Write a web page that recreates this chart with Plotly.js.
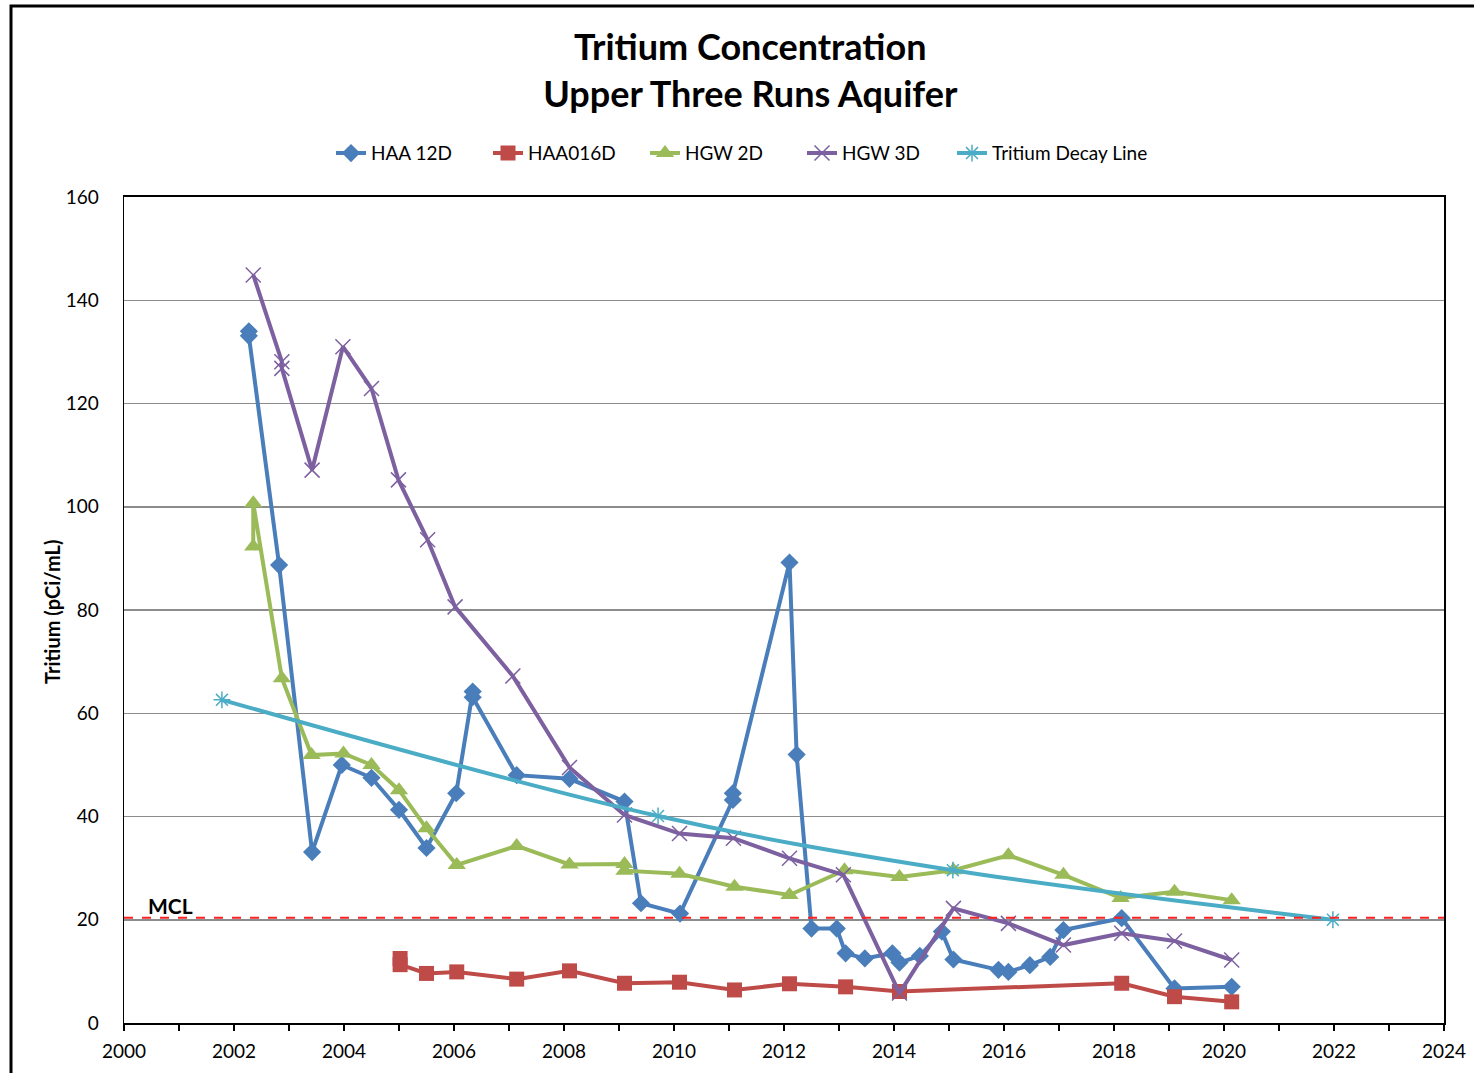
<!DOCTYPE html>
<html>
<head>
<meta charset="utf-8">
<script src="https://cdn.plot.ly/plotly-3.0.1.min.js"></script>
<style>
html,body{margin:0;padding:0;background:#fff;}
#chart{width:1474px;height:1073px;}
</style>
</head>
<body>
<div id="chart"></div>
<script>
// Decimal-year sample dates and tritium values (pCi/mL)
const haa12dX = [2002.27,2002.27,2002.82,2003.42,2003.96,2004.5,2005.0,2005.5,2006.04,2006.34,2006.34,2007.14,2008.1,2009.1,2009.4,2010.11,2011.07,2011.07,2012.1,2012.23,2012.5,2012.96,2013.12,2013.47,2013.97,2014.1,2014.47,2014.87,2015.08,2015.9,2016.08,2016.47,2016.84,2017.08,2018.14,2019.1,2020.14];
const haa12dY = [134.0,133.1,88.7,33.1,50.0,47.5,41.3,33.9,44.5,64.2,63.1,48.0,47.3,42.9,23.2,21.2,43.2,44.5,89.2,52.0,18.3,18.3,13.5,12.5,13.5,11.7,13.0,17.7,12.3,10.3,9.9,11.2,12.8,18.0,20.3,6.7,7.0];

const haa016dX = [2005.02,2005.02,2005.5,2006.05,2007.14,2008.1,2009.1,2010.1,2011.1,2012.1,2013.12,2014.1,2018.14,2019.1,2020.14];
const haa016dY = [12.5,11.3,9.6,9.9,8.5,10.1,7.7,7.9,6.4,7.6,7.0,6.1,7.7,5.1,4.1];

const hgw2dX = [2002.35,2002.35,2002.87,2003.41,2003.99,2004.5,2005.0,2005.5,2006.05,2007.14,2008.1,2009.1,2009.1,2010.1,2011.1,2012.1,2013.1,2014.1,2015.08,2016.08,2017.08,2018.12,2019.1,2020.14];
const hgw2dY = [92.3,100.7,66.8,51.9,52.2,50.0,45.1,37.7,30.6,34.3,30.7,30.8,29.5,28.9,26.4,24.8,29.6,28.3,29.6,32.5,28.7,24.2,25.4,23.8];

const hgw3dX = [2002.35,2002.87,2002.87,2003.42,2003.98,2004.5,2004.99,2005.52,2006.02,2007.07,2008.1,2009.1,2010.1,2011.08,2012.1,2013.08,2014.1,2015.08,2016.08,2017.08,2018.14,2019.1,2020.14];
const hgw3dY = [144.9,128.1,126.8,107.1,131.0,122.9,105.2,93.6,80.6,67.2,49.5,40.3,36.7,35.8,31.9,28.7,5.8,22.2,19.3,15.1,17.4,15.9,12.2];

const decayX = [2001.78,2009.71,2015.07,2021.98];
const decayY = [62.6,40.1,29.6,20.0];

const mclValue = 20;
const xTickVals = [2000,2002,2004,2006,2008,2010,2012,2014,2016,2018,2020,2022,2024];

const FONT = 'Lato, "Open Sans", sans-serif';

const traces = [
  {name:'HAA 12D', x:haa12dX, y:haa12dY, mode:'lines+markers', legend:'legend',
   line:{color:'#4A7EBB', width:4}, marker:{symbol:'diamond', size:14, color:'#4A7EBB'}},
  {name:'HAA016D', x:haa016dX, y:haa016dY, mode:'lines+markers', legend:'legend',
   line:{color:'#BE4B48', width:4}, marker:{symbol:'square', size:15, color:'#BE4B48'}},
  {name:'HGW 2D', x:hgw2dX, y:hgw2dY, mode:'lines+markers', legend:'legend',
   line:{color:'#9BBB59', width:4}, marker:{symbol:'triangle-up', size:16, color:'#9BBB59'}},
  {name:'HGW 3D', x:hgw3dX, y:hgw3dY, mode:'lines+markers', legend:'legend',
   line:{color:'#7D60A0', width:4}, marker:{symbol:'x-thin', size:15, color:'#7D60A0', line:{color:'#7D60A0', width:1.5}}},
  {name:'Tritium Decay Line', x:decayX, y:decayY, mode:'lines+markers', legend:'legend2',
   line:{color:'#4BACC6', width:4, shape:'spline', smoothing:1}, marker:{symbol:'asterisk', size:14, color:'#4BACC6', line:{color:'#4BACC6', width:1.5}}}
];

const legendFont = {family:FONT, size:19, color:'#000'};

const layout = {
  width:1474, height:1073,
  margin:{l:124, r:30, t:197, b:50},
  paper_bgcolor:'#fff', plot_bgcolor:'#fff',
  font:{family:FONT, color:'#000', size:18},
  title:{text:'<b>Tritium Concentration<br>Upper Three Runs Aquifer</b>',
         font:{family:FONT, size:36, color:'#000'}, x:0.509, xanchor:'center', y:1-60/1073, yanchor:'middle', xref:'container', yref:'container'},
  showlegend:true,
  legend:{orientation:'h', x:(331-124)/1320, xanchor:'left', y:1.053, yanchor:'middle', entrywidth:112, entrywidthmode:'pixels',
          font:legendFont, bgcolor:'rgba(0,0,0,0)', tracegroupgap:0},
  legend2:{orientation:'h', x:(952-124)/1320, xanchor:'left', y:1.053, yanchor:'middle',
          font:legendFont, bgcolor:'rgba(0,0,0,0)', tracegroupgap:0},
  xaxis:{range:[2000,2024], tickvals:xTickVals, ticktext:xTickVals.map(String),
         ticks:'outside', ticklen:6, tickwidth:1.5, tickcolor:'#000', ticklabelstandoff:4,
         minor:{dtick:1, tick0:2000, ticks:'outside', ticklen:6, tickwidth:1.5, tickcolor:'#000', showgrid:false},
         showgrid:false, zeroline:false, showline:true, linecolor:'#000', linewidth:2, mirror:true,
         tickfont:{family:FONT, size:19, color:'#000'}},
  yaxis:{range:[0,160], dtick:20, tick0:0, showgrid:true, gridcolor:'#8C8C8C', gridwidth:1.5,
         zeroline:false, showline:true, linecolor:'#000', linewidth:1.5, mirror:true,
         ticks:'', ticklabelstandoff:20,
         tickfont:{family:FONT, size:19, color:'#000'}},
  shapes:[
    {type:'line', xref:'paper', x0:0, x1:1, yref:'y', y0:mclValue+0.4, y1:mclValue+0.4,
     line:{color:'#FF2020', width:2, dash:'dash'}},
    {type:'rect', xref:'paper', yref:'paper', x0:(11-124)/1320, x1:1.2, y0:-0.2, y1:(1023-6)/826,
     line:{color:'#000', width:3}, fillcolor:'rgba(0,0,0,0)', layer:'above'}
  ],
  annotations:[
    {text:'<b>MCL</b>', xref:'paper', x:(146-124)/1320, xanchor:'left', yref:'y', y:mclValue, yanchor:'bottom', yshift:0,
     showarrow:false, font:{family:FONT, size:21, color:'#000'}},
    {text:'<b>Tritium (pCi/mL)</b>', xref:'paper', x:(52-124)/1320, xanchor:'center', yref:'paper', y:(1023-612)/826, yanchor:'middle',
     textangle:-90, showarrow:false, font:{family:FONT, size:20, color:'#000'}}
  ]
};

Plotly.newPlot('chart', traces, layout, {displayModeBar:false, staticPlot:true});
</script>
</body>
</html>
